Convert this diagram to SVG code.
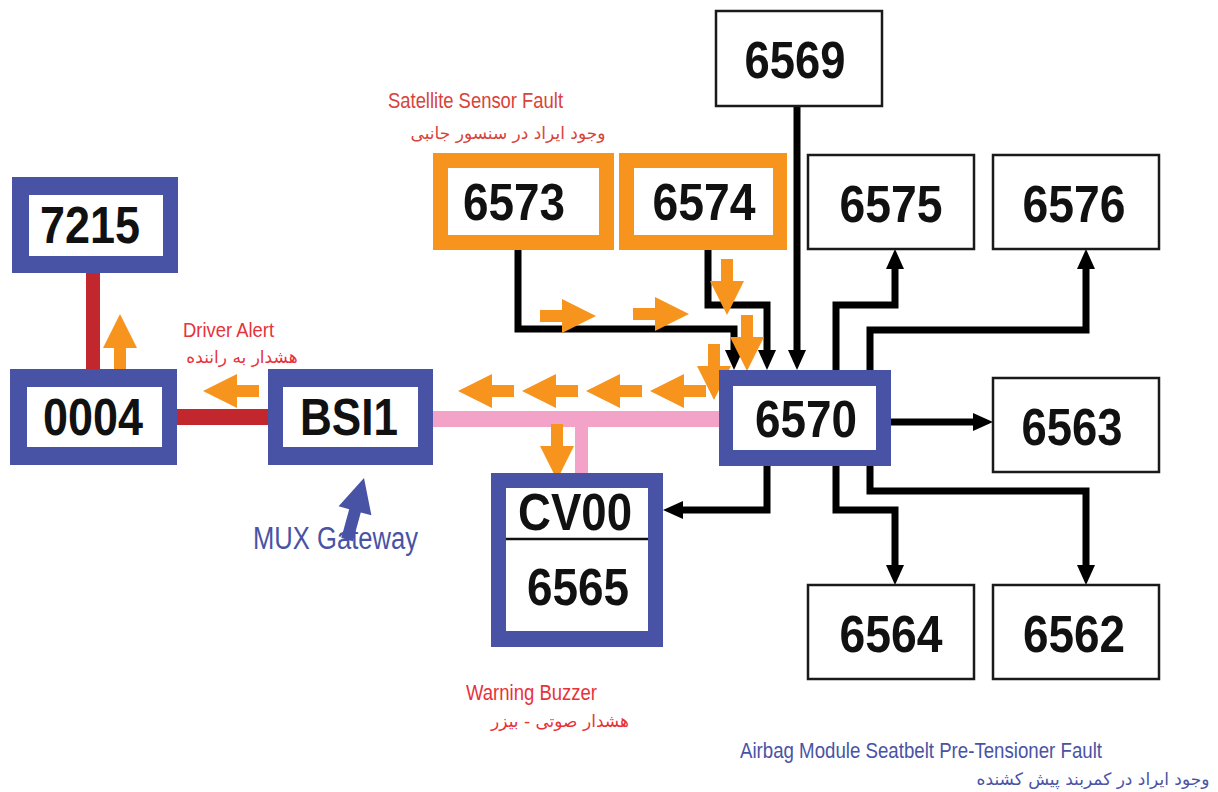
<svg xmlns="http://www.w3.org/2000/svg" xmlns:xlink="http://www.w3.org/1999/xlink" width="1218" height="792" viewBox="0 0 1218 792">
<style>
.num{font-family:"Liberation Sans",Arial,sans-serif;font-weight:bold;font-size:51px;fill:#111;text-anchor:middle}
.blue{fill:#4953a5}
.orange{fill:#f7941d}
.inner{fill:#fff}
.bbox{fill:#fff;stroke:#1a1a1a;stroke-width:2.5}
.conn{fill:none;stroke:#000;stroke-width:7;stroke-linejoin:miter}
.lbl{font-family:"Liberation Sans",Arial,sans-serif;font-size:22px}
.fa{font-family:"DejaVu Sans","Noto Sans",sans-serif;font-size:17px}
.red{fill:#e8323a}
.dred{fill:#d8433a}
.bl{fill:#4953a5}
</style>
<defs>
<marker id="ah" viewBox="0 0 20 18" refX="0" refY="9" markerWidth="20" markerHeight="18" markerUnits="userSpaceOnUse" orient="auto">
<path d="M0,0 L20,9 L0,18 Z" fill="#000"/>
</marker>
<path id="oa" d="M0,0 L-34,-17 L-34,-6 L-56,-6 L-56,6 L-34,6 L-34,17 Z" fill="#f7941d"/>
</defs>

<g id="connectors">
<rect x="86" y="270" width="14" height="102" fill="#c1272d"/>
<rect x="175" y="409" width="96" height="16" fill="#c1272d"/>
<rect x="430" y="411" width="292" height="16" fill="#f4a3c8"/>
<rect x="575" y="419" width="13" height="56" fill="#f4a3c8"/>
<path class="conn" d="M518,250 V329 H734 V350" marker-end="url(#ah)"/>
<path class="conn" d="M708,250 V305 H767 V350" marker-end="url(#ah)"/>
<path class="conn" d="M797,106 V350" marker-end="url(#ah)"/>
<path class="conn" d="M836,370 V305 H895 V269" marker-end="url(#ah)"/>
<path class="conn" d="M870,370 V330 H1086 V269" marker-end="url(#ah)"/>
<path class="conn" d="M891,422 H973" marker-end="url(#ah)"/>
<path class="conn" d="M767,466 V510 H683" marker-end="url(#ah)"/>
<path class="conn" d="M836,466 V510 H895 V565" marker-end="url(#ah)"/>
<path class="conn" d="M870,466 V491 H1086 V565" marker-end="url(#ah)"/>
<use xlink:href="#oa" transform="translate(120,314) rotate(-90)"/>
<use xlink:href="#oa" transform="translate(203,391) rotate(180)"/>
<use xlink:href="#oa" transform="translate(458,391) rotate(180)"/>
<use xlink:href="#oa" transform="translate(522,391) rotate(180)"/>
<use xlink:href="#oa" transform="translate(586,391) rotate(180)"/>
<use xlink:href="#oa" transform="translate(650,391) rotate(180)"/>
<use xlink:href="#oa" transform="translate(557,480) rotate(90)"/>
<use xlink:href="#oa" transform="translate(596,316)"/>
<use xlink:href="#oa" transform="translate(689,314)"/>
<use xlink:href="#oa" transform="translate(727,315) rotate(90)"/>
<use xlink:href="#oa" transform="translate(747,371) rotate(90)"/>
<use xlink:href="#oa" transform="translate(714,400) rotate(90)"/>
</g>

<g id="n7215"><rect class="blue" x="12" y="177" width="166" height="96"/><rect class="inner" x="29" y="195" width="134" height="61"/><text class="num" x="90" y="243" textLength="100" lengthAdjust="spacingAndGlyphs">7215</text></g>
<g id="n0004"><rect class="blue" x="10" y="369" width="167" height="96"/><rect class="inner" x="27" y="387" width="135" height="60"/><text class="num" x="93" y="435" textLength="100" lengthAdjust="spacingAndGlyphs">0004</text></g>
<g id="nBSI1"><rect class="blue" x="268" y="369" width="165" height="96"/><rect class="inner" x="283" y="387" width="135" height="60"/><text class="num" x="349" y="435" textLength="98" lengthAdjust="spacingAndGlyphs">BSI1</text></g>
<g id="n6570"><rect class="blue" x="719" y="370" width="172" height="96"/><rect class="inner" x="733" y="386" width="143" height="64"/><text class="num" x="806" y="437" textLength="102" lengthAdjust="spacingAndGlyphs">6570</text></g>
<g id="nCV00"><rect class="blue" x="491" y="473" width="172" height="174"/><rect class="inner" x="506" y="488" width="142" height="143"/><line x1="506" y1="539" x2="648" y2="539" stroke="#111" stroke-width="2.5"/><text class="num" x="575" y="530" textLength="114" lengthAdjust="spacingAndGlyphs">CV00</text><text class="num" x="578" y="605" textLength="102" lengthAdjust="spacingAndGlyphs">6565</text></g>
<g id="n6573"><rect class="orange" x="433" y="153" width="181" height="97"/><rect class="inner" x="448" y="168" width="151" height="67"/><text class="num" x="514" y="220" textLength="102" lengthAdjust="spacingAndGlyphs">6573</text></g>
<g id="n6574"><rect class="orange" x="619" y="153" width="168" height="97"/><rect class="inner" x="634" y="168" width="139" height="67"/><text class="num" x="704" y="220" textLength="103" lengthAdjust="spacingAndGlyphs">6574</text></g>
<g id="n6569"><rect class="bbox" x="716" y="11" width="166" height="95"/><text class="num" x="795" y="78" textLength="101" lengthAdjust="spacingAndGlyphs">6569</text></g>
<g id="n6575"><rect class="bbox" x="808" y="155" width="166" height="94"/><text class="num" x="891" y="222" textLength="103" lengthAdjust="spacingAndGlyphs">6575</text></g>
<g id="n6576"><rect class="bbox" x="993" y="155" width="166" height="94"/><text class="num" x="1074" y="222" textLength="103" lengthAdjust="spacingAndGlyphs">6576</text></g>
<g id="n6563"><rect class="bbox" x="993" y="378" width="166" height="94"/><text class="num" x="1072" y="445" textLength="101" lengthAdjust="spacingAndGlyphs">6563</text></g>
<g id="n6564"><rect class="bbox" x="808" y="585" width="166" height="94"/><text class="num" x="891" y="652" textLength="103" lengthAdjust="spacingAndGlyphs">6564</text></g>
<g id="n6562"><rect class="bbox" x="993" y="585" width="166" height="94"/><text class="num" x="1074" y="652" textLength="102" lengthAdjust="spacingAndGlyphs">6562</text></g>

<g id="labels">
<text class="lbl dred" x="388" y="108" textLength="175" lengthAdjust="spacingAndGlyphs">Satellite Sensor Fault</text>
<text class="fa dred" x="508" y="139" text-anchor="middle" direction="rtl">وجود ایراد در سنسور جانبی</text>
<text class="lbl red" x="183" y="337" style="font-size:21px" textLength="91" lengthAdjust="spacingAndGlyphs">Driver Alert</text>
<text class="fa red" x="242" y="363" text-anchor="middle" direction="rtl">هشدار به راننده</text>
<text class="lbl bl" x="253" y="549" style="font-size:31px" textLength="165" lengthAdjust="spacingAndGlyphs">MUX Gateway</text>
<text class="lbl red" x="466" y="700" textLength="131" lengthAdjust="spacingAndGlyphs">Warning Buzzer</text>
<text class="fa red" x="560" y="727" text-anchor="middle" direction="rtl">هشدار صوتی - بیزر</text>
<text class="lbl bl" x="740" y="758" textLength="362" lengthAdjust="spacingAndGlyphs">Airbag Module Seatbelt Pre-Tensioner Fault</text>
<text class="fa bl" x="1093" y="785" text-anchor="middle" direction="rtl">وجود ایراد در کمربند پیش کشنده</text>
</g>
<g id="mux-arrow">
<polygon points="364,478 371.4,515.3 360.8,512.4 352.9,541.3 341.3,538.1 349.2,509.2 338.6,506.3" fill="#4953a5"/>
</g>
</svg>
